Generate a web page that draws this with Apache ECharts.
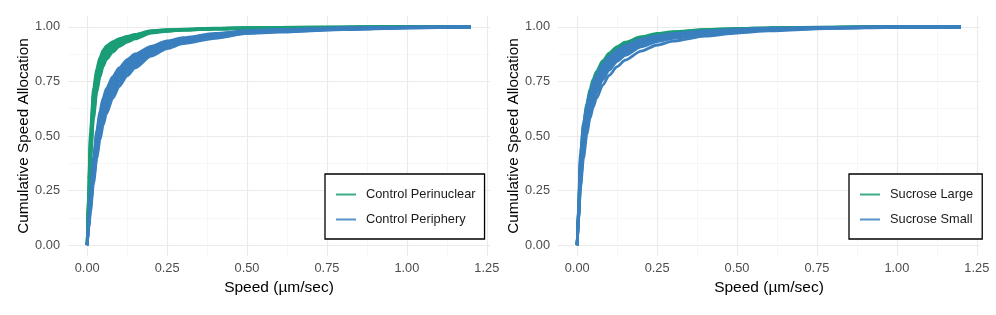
<!DOCTYPE html>
<html>
<head>
<meta charset="utf-8">
<script src="https://cdn.jsdelivr.net/npm/echarts@6/dist/echarts.min.js"></script>
<style>html,body{margin:0;padding:0;background:#fff}#c{width:996px;height:315px}</style>
</head>
<body>
<div id="c"></div>
<script>
// shared speed grid (µm/sec) at which each cumulative curve was read
var speeds = [0, 0.005, 0.01, 0.02, 0.03, 0.04, 0.05, 0.06, 0.08, 0.1, 0.125, 0.15, 0.2, 0.25, 0.3, 0.4, 0.5, 0.6, 0.8, 1.0, 1.2];

// Left panel: Control Perinuclear (one curve per cell)
var perinuclear = [
  [0, 0.30, 0.52, 0.72, 0.81, 0.86, 0.893, 0.913, 0.933, 0.946, 0.957, 0.966, 0.983, 0.987, 0.990, 0.994, 0.996, 0.998, 0.999, 1, 1],
  [0, 0.28, 0.49, 0.70, 0.79, 0.845, 0.882, 0.905, 0.928, 0.942, 0.954, 0.963, 0.981, 0.986, 0.989, 0.993, 0.996, 0.998, 0.999, 1, 1],
  [0, 0.26, 0.47, 0.68, 0.775, 0.835, 0.872, 0.897, 0.922, 0.938, 0.950, 0.960, 0.979, 0.985, 0.988, 0.993, 0.995, 0.997, 0.999, 1, 1],
  [0, 0.25, 0.45, 0.66, 0.76, 0.82, 0.862, 0.888, 0.915, 0.932, 0.946, 0.957, 0.978, 0.984, 0.988, 0.992, 0.995, 0.997, 0.999, 1, 1],
  [0, 0.23, 0.43, 0.64, 0.745, 0.808, 0.850, 0.878, 0.908, 0.927, 0.942, 0.954, 0.976, 0.983, 0.987, 0.992, 0.994, 0.997, 0.998, 1, 1],
  [0, 0.22, 0.41, 0.62, 0.73, 0.795, 0.840, 0.868, 0.900, 0.921, 0.938, 0.951, 0.975, 0.982, 0.986, 0.991, 0.994, 0.996, 0.998, 1, 1],
  [0, 0.21, 0.395, 0.60, 0.715, 0.782, 0.829, 0.859, 0.893, 0.915, 0.934, 0.948, 0.974, 0.981, 0.985, 0.990, 0.993, 0.996, 0.998, 1, 1],
  [0, 0.20, 0.38, 0.58, 0.70, 0.77, 0.82, 0.85, 0.885, 0.910, 0.930, 0.945, 0.972, 0.980, 0.985, 0.990, 0.993, 0.996, 0.998, 1, 1]
];

// Left panel: Control Periphery
var periphery = [
  [0, 0.12, 0.235, 0.405, 0.525, 0.615, 0.675, 0.717, 0.772, 0.812, 0.850, 0.876, 0.911, 0.936, 0.951, 0.970, 0.983, 0.989, 0.996, 0.999, 1],
  [0, 0.113, 0.222, 0.388, 0.508, 0.598, 0.658, 0.703, 0.760, 0.800, 0.840, 0.867, 0.905, 0.931, 0.947, 0.966, 0.981, 0.987, 0.995, 0.999, 1],
  [0, 0.106, 0.21, 0.372, 0.492, 0.580, 0.642, 0.688, 0.747, 0.789, 0.830, 0.859, 0.899, 0.926, 0.943, 0.963, 0.979, 0.986, 0.994, 0.998, 1],
  [0, 0.100, 0.198, 0.355, 0.474, 0.562, 0.626, 0.672, 0.734, 0.778, 0.820, 0.850, 0.893, 0.921, 0.939, 0.960, 0.977, 0.984, 0.993, 0.998, 1],
  [0, 0.093, 0.186, 0.338, 0.455, 0.543, 0.608, 0.656, 0.720, 0.766, 0.810, 0.841, 0.887, 0.916, 0.935, 0.957, 0.975, 0.982, 0.992, 0.997, 1],
  [0, 0.087, 0.174, 0.320, 0.435, 0.523, 0.589, 0.638, 0.705, 0.753, 0.799, 0.832, 0.880, 0.911, 0.931, 0.954, 0.973, 0.980, 0.991, 0.997, 1],
  [0, 0.080, 0.162, 0.302, 0.415, 0.503, 0.570, 0.620, 0.689, 0.740, 0.788, 0.822, 0.873, 0.906, 0.927, 0.951, 0.971, 0.978, 0.989, 0.996, 1],
  [0, 0.074, 0.150, 0.284, 0.395, 0.482, 0.550, 0.601, 0.673, 0.727, 0.776, 0.812, 0.866, 0.901, 0.923, 0.948, 0.970, 0.976, 0.988, 0.995, 1]
];

// Right panel: Sucrose Large
var sucroseLarge = [
  [0, 0.20, 0.40, 0.56, 0.65, 0.715, 0.76, 0.795, 0.845, 0.88, 0.91, 0.93, 0.955, 0.970, 0.978, 0.988, 0.993, 0.996, 0.999, 1, 1],
  [0, 0.18, 0.37, 0.54, 0.635, 0.70, 0.748, 0.785, 0.836, 0.872, 0.903, 0.925, 0.951, 0.967, 0.976, 0.987, 0.992, 0.996, 0.999, 1, 1],
  [0, 0.17, 0.35, 0.52, 0.62, 0.688, 0.737, 0.775, 0.827, 0.864, 0.897, 0.919, 0.947, 0.964, 0.974, 0.985, 0.991, 0.995, 0.998, 1, 1],
  [0, 0.15, 0.32, 0.50, 0.60, 0.67, 0.72, 0.76, 0.815, 0.853, 0.888, 0.912, 0.942, 0.960, 0.971, 0.983, 0.990, 0.994, 0.998, 1, 1],
  [0, 0.14, 0.30, 0.48, 0.585, 0.655, 0.706, 0.747, 0.804, 0.843, 0.879, 0.905, 0.937, 0.956, 0.968, 0.981, 0.989, 0.993, 0.998, 1, 1],
  [0, 0.12, 0.27, 0.45, 0.56, 0.635, 0.69, 0.732, 0.79, 0.832, 0.870, 0.897, 0.931, 0.952, 0.965, 0.979, 0.987, 0.992, 0.997, 1, 1]
];

// Right panel: Sucrose Small
var sucroseSmall = [
  [0, 0.22, 0.42, 0.56, 0.64, 0.70, 0.745, 0.78, 0.83, 0.865, 0.895, 0.915, 0.944, 0.960, 0.970, 0.982, 0.989, 0.994, 0.998, 1, 1],
  [0, 0.20, 0.39, 0.54, 0.625, 0.685, 0.732, 0.768, 0.82, 0.855, 0.887, 0.909, 0.939, 0.956, 0.967, 0.980, 0.988, 0.993, 0.998, 1, 1],
  [0, 0.19, 0.37, 0.52, 0.61, 0.67, 0.718, 0.755, 0.808, 0.845, 0.878, 0.901, 0.933, 0.951, 0.963, 0.977, 0.986, 0.992, 0.997, 1, 1],
  [0, 0.17, 0.34, 0.495, 0.59, 0.652, 0.70, 0.738, 0.793, 0.832, 0.867, 0.892, 0.926, 0.946, 0.959, 0.974, 0.984, 0.990, 0.997, 0.999, 1],
  [0, 0.16, 0.32, 0.47, 0.565, 0.632, 0.682, 0.722, 0.778, 0.82, 0.856, 0.883, 0.919, 0.941, 0.955, 0.971, 0.982, 0.989, 0.996, 0.999, 1],
  [0, 0.15, 0.30, 0.45, 0.548, 0.617, 0.668, 0.710, 0.768, 0.811, 0.849, 0.877, 0.914, 0.937, 0.951, 0.968, 0.980, 0.988, 0.996, 0.999, 1],
  [0, 0.14, 0.28, 0.43, 0.53, 0.60, 0.655, 0.697, 0.758, 0.802, 0.842, 0.870, 0.909, 0.933, 0.948, 0.966, 0.979, 0.987, 0.995, 0.999, 1],
  [0, 0.13, 0.26, 0.40, 0.505, 0.58, 0.632, 0.672, 0.733, 0.778, 0.818, 0.848, 0.889, 0.917, 0.935, 0.958, 0.972, 0.982, 0.993, 0.998, 1]
];

var xTicks = [0, 0.25, 0.5, 0.75, 1.0, 1.25];
var xMinor = [0.125, 0.375, 0.625, 0.875, 1.125];
var yTicks = [0, 0.25, 0.5, 0.75, 1.0];
var yMinor = [0.125, 0.375, 0.625, 0.875];

var GREEN = '#1b9e77', BLUE = '#3a7fbe';
var FONT = '"Liberation Sans", Arial, Helvetica, sans-serif';

function curves(set, name, color, gridIdx) {
  return set.map(function (ys) {
    return {
      type: 'line', name: name, xAxisIndex: gridIdx * 2, yAxisIndex: gridIdx * 2,
      data: speeds.map(function (s, i) { return [s, ys[i]]; }),
      showSymbol: false, symbol: 'none', smooth: 0.25, smoothMonotone: 'x',
      lineStyle: { color: color, width: 2.8 },
      itemStyle: { color: color },
      emphasis: { disabled: true }, silent: true
    };
  });
}

function xAxes(gridIdx) {
  var base = { type: 'value', gridIndex: gridIdx, min: -0.06, max: 1.26,
    axisLine: { show: false } };
  return [
    Object.assign({}, base, {
      name: 'Speed (µm/sec)', nameLocation: 'middle', nameGap: 22,
      nameTextStyle: { fontFamily: FONT, fontSize: 15.5, color: '#000' },
      axisTick: { show: false, customValues: xTicks },
      axisLabel: { customValues: xTicks, margin: 6, color: '#4d4d4d', fontSize: 12.8, fontFamily: FONT,
        formatter: function (v) { return v.toFixed(2); } },
      splitLine: { show: true, lineStyle: { color: '#ebebeb', width: 1.1 } }
    }),
    Object.assign({}, base, {
      axisTick: { show: false, customValues: xMinor },
      axisLabel: { show: false, customValues: xMinor },
      splitLine: { show: true, lineStyle: { color: '#f3f3f3', width: 0.7 } }
    })
  ];
}
function yAxes(gridIdx) {
  var base = { type: 'value', gridIndex: gridIdx, min: -0.05, max: 1.05,
    axisLine: { show: false } };
  return [
    Object.assign({}, base, {
      name: 'Cumulative Speed Allocation', nameLocation: 'middle', nameGap: 36,
      nameTextStyle: { fontFamily: FONT, fontSize: 15.3, color: '#000' },
      axisTick: { show: false, customValues: yTicks },
      axisLabel: { customValues: yTicks, margin: 8, color: '#4d4d4d', fontSize: 12.8, fontFamily: FONT,
        formatter: function (v) { return v.toFixed(2); } },
      splitLine: { show: true, lineStyle: { color: '#ebebeb', width: 1.1 } }
    }),
    Object.assign({}, base, {
      axisTick: { show: false, customValues: yMinor },
      axisLabel: { show: false, customValues: yMinor },
      splitLine: { show: true, lineStyle: { color: '#f3f3f3', width: 0.7 } }
    })
  ];
}

function legend(left, names) {
  return {
    left: left, top: 174, orient: 'vertical',
    data: names,
    icon: 'path://M0,0L20,0L20,2L0,2Z',
    itemWidth: 20, itemHeight: 14, itemGap: 12,
    padding: [14, 9, 13, 11],
    borderColor: '#000', borderWidth: 1.3, backgroundColor: '#fff',
    itemStyle: { opacity: 0.85 },
    textStyle: { fontFamily: FONT, fontSize: 12.8, color: '#1a1a1a', padding: [0, 0, 0, 5] },
    selectedMode: false
  };
}

var chart = echarts.init(document.getElementById('c'), null, { renderer: 'canvas' });
chart.setOption({
  animation: false,
  backgroundColor: '#fff',
  grid: [
    { left: 68, top: 16, width: 422, height: 240 },
    { left: 558, top: 16, width: 422, height: 240 }
  ],
  xAxis: xAxes(0).concat(xAxes(1)),
  yAxis: yAxes(0).concat(yAxes(1)),
  legend: [
    legend(325, ['Control Perinuclear', 'Control Periphery']),
    legend(849, ['Sucrose Large', 'Sucrose Small'])
  ],
  series: [].concat(
    curves(perinuclear, 'Control Perinuclear', GREEN, 0),
    curves(periphery, 'Control Periphery', BLUE, 0),
    curves(sucroseLarge, 'Sucrose Large', GREEN, 1),
    curves(sucroseSmall, 'Sucrose Small', BLUE, 1)
  )
});
</script>
</body>
</html>
